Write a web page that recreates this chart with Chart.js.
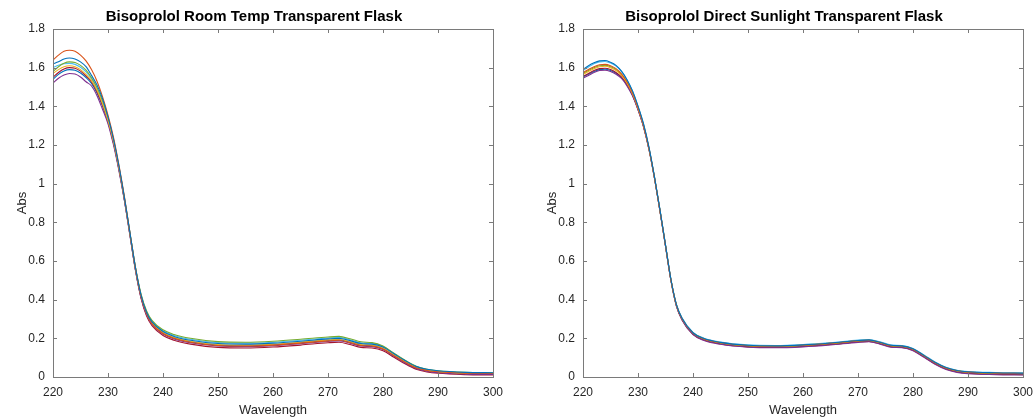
<!DOCTYPE html>
<html lang="en">
<head>
  <meta charset="UTF-8" />
  <title>Bisoprolol spectra</title>
  <script src="https://cdn.jsdelivr.net/npm/chart.js"></script>
  <style>
    * { box-sizing: border-box; margin: 0; padding: 0; }
    body { background: #fff; width: 1036px; height: 420px; position: relative; overflow: hidden; font-family: "Liberation Sans", Arial, sans-serif; }
    .panel { position: absolute; top: 0; height: 420px; }
    #leftPanel { left: 0; width: 504px; }
    #rightPanel { left: 530px; width: 506px; }
  </style>
</head>
<body>

  <div class="panel" id="leftPanel"><canvas id="chartLeft"></canvas></div>
  <div class="panel" id="rightPanel"><canvas id="chartRight"></canvas></div>

  <script>
    // Data
    const wavelengths = [220, 221, 222, 223, 224, 225, 226, 227, 228, 229, 230, 231, 232, 233, 234, 235, 236, 237, 238, 240,
                         242, 245, 250, 255, 260, 265, 270, 272, 274, 276, 278, 280, 282, 284, 286, 288, 290, 295, 300];

    // Room temp, transparent flask
    const room1 = [1.62, 1.63, 1.645, 1.65, 1.645, 1.63, 1.605, 1.56, 1.51, 1.44, 1.345, 1.23, 1.09, 0.925, 0.745, 0.565, 0.425, 0.335, 0.285, 0.235,
                   0.21, 0.19, 0.173, 0.17, 0.175, 0.185, 0.197, 0.2, 0.188, 0.173, 0.17, 0.155, 0.12, 0.085, 0.055, 0.04, 0.032, 0.024, 0.022];
    const room2 = [1.64, 1.665, 1.685, 1.69, 1.685, 1.665, 1.635, 1.59, 1.53, 1.45, 1.355, 1.24, 1.095, 0.93, 0.745, 0.565, 0.42, 0.33, 0.275, 0.225,
                   0.2, 0.18, 0.163, 0.16, 0.165, 0.175, 0.187, 0.19, 0.178, 0.163, 0.16, 0.145, 0.11, 0.077, 0.048, 0.034, 0.027, 0.02, 0.018];
    const room3 = [1.57, 1.59, 1.605, 1.61, 1.605, 1.59, 1.565, 1.533, 1.483, 1.413, 1.326, 1.216, 1.078, 0.918, 0.738, 0.558, 0.42, 0.33, 0.28, 0.23,
                   0.205, 0.185, 0.168, 0.165, 0.17, 0.18, 0.192, 0.195, 0.183, 0.168, 0.165, 0.15, 0.115, 0.08, 0.05, 0.035, 0.028, 0.02, 0.018];
    const room4 = [1.52, 1.545, 1.562, 1.57, 1.567, 1.552, 1.527, 1.505, 1.455, 1.385, 1.31, 1.2, 1.065, 0.91, 0.73, 0.55, 0.41, 0.322, 0.272, 0.222,
                   0.197, 0.177, 0.16, 0.157, 0.162, 0.172, 0.184, 0.187, 0.175, 0.16, 0.157, 0.142, 0.107, 0.072, 0.044, 0.03, 0.022, 0.015, 0.013];
    const room5 = [1.58, 1.605, 1.623, 1.63, 1.627, 1.612, 1.587, 1.548, 1.498, 1.428, 1.336, 1.226, 1.084, 0.924, 0.745, 0.567, 0.43, 0.343, 0.293, 0.244,
                   0.22, 0.2, 0.183, 0.18, 0.185, 0.195, 0.207, 0.21, 0.198, 0.182, 0.178, 0.16, 0.123, 0.087, 0.056, 0.04, 0.032, 0.024, 0.022];
    const room6 = [1.60, 1.612, 1.62, 1.622, 1.617, 1.602, 1.578, 1.542, 1.492, 1.422, 1.332, 1.222, 1.082, 0.922, 0.742, 0.563, 0.426, 0.338, 0.288, 0.239,
                   0.215, 0.195, 0.178, 0.175, 0.18, 0.19, 0.202, 0.205, 0.193, 0.177, 0.174, 0.158, 0.121, 0.085, 0.054, 0.038, 0.03, 0.022, 0.02];
    const room7 = [1.55, 1.575, 1.593, 1.60, 1.597, 1.582, 1.557, 1.526, 1.476, 1.406, 1.322, 1.212, 1.074, 0.914, 0.733, 0.552, 0.408, 0.316, 0.265, 0.215,
                   0.19, 0.17, 0.153, 0.15, 0.155, 0.165, 0.177, 0.18, 0.168, 0.153, 0.15, 0.136, 0.102, 0.068, 0.04, 0.026, 0.019, 0.012, 0.01];
    const room8 = [1.54, 1.565, 1.583, 1.59, 1.587, 1.572, 1.549, 1.519, 1.469, 1.401, 1.318, 1.21, 1.072, 0.913, 0.733, 0.554, 0.416, 0.327, 0.277, 0.227,
                   0.202, 0.182, 0.165, 0.162, 0.167, 0.177, 0.189, 0.192, 0.18, 0.165, 0.162, 0.147, 0.112, 0.077, 0.047, 0.032, 0.025, 0.017, 0.015];

    // Direct sunlight, transparent flask
    const sun1 = [1.59, 1.61, 1.625, 1.635, 1.637, 1.628, 1.612, 1.582, 1.538, 1.48, 1.402, 1.31, 1.188, 1.035, 0.864, 0.683, 0.503, 0.373, 0.304, 0.229,
                  0.199, 0.179, 0.164, 0.161, 0.166, 0.176, 0.189, 0.192, 0.18, 0.164, 0.161, 0.146, 0.112, 0.076, 0.049, 0.034, 0.027, 0.022, 0.02];
    const sun2 = [1.575, 1.59, 1.605, 1.615, 1.617, 1.61, 1.595, 1.568, 1.527, 1.471, 1.394, 1.303, 1.182, 1.031, 0.861, 0.681, 0.501, 0.372, 0.302, 0.227,
                  0.197, 0.177, 0.162, 0.159, 0.164, 0.174, 0.187, 0.19, 0.178, 0.162, 0.159, 0.144, 0.11, 0.074, 0.047, 0.032, 0.025, 0.02, 0.018];
    const sun3 = [1.565, 1.58, 1.595, 1.605, 1.607, 1.60, 1.585, 1.56, 1.52, 1.465, 1.39, 1.30, 1.18, 1.03, 0.86, 0.68, 0.50, 0.37, 0.301, 0.228,
                  0.198, 0.178, 0.163, 0.16, 0.165, 0.175, 0.188, 0.191, 0.179, 0.163, 0.16, 0.145, 0.111, 0.075, 0.048, 0.033, 0.026, 0.021, 0.019];
    const sun4 = [1.545, 1.56, 1.575, 1.585, 1.587, 1.58, 1.566, 1.544, 1.506, 1.454, 1.382, 1.294, 1.176, 1.027, 0.857, 0.677, 0.497, 0.365, 0.295, 0.219,
                  0.189, 0.169, 0.154, 0.151, 0.156, 0.166, 0.179, 0.182, 0.17, 0.154, 0.151, 0.136, 0.102, 0.066, 0.039, 0.024, 0.017, 0.012, 0.01];
    const sun5 = [1.57, 1.585, 1.60, 1.61, 1.612, 1.605, 1.59, 1.564, 1.523, 1.467, 1.392, 1.301, 1.181, 1.031, 0.861, 0.681, 0.501, 0.37, 0.30, 0.225,
                  0.195, 0.175, 0.16, 0.157, 0.162, 0.172, 0.185, 0.188, 0.176, 0.16, 0.157, 0.142, 0.108, 0.072, 0.045, 0.03, 0.023, 0.018, 0.016];
    const sun6 = [1.585, 1.603, 1.62, 1.63, 1.632, 1.624, 1.608, 1.58, 1.537, 1.479, 1.40, 1.309, 1.187, 1.035, 0.864, 0.683, 0.503, 0.375, 0.306, 0.231,
                  0.201, 0.181, 0.166, 0.163, 0.168, 0.178, 0.191, 0.194, 0.182, 0.166, 0.163, 0.148, 0.114, 0.078, 0.05, 0.035, 0.028, 0.023, 0.021];
    const sun7 = [1.555, 1.57, 1.585, 1.595, 1.597, 1.59, 1.575, 1.552, 1.513, 1.459, 1.386, 1.297, 1.178, 1.028, 0.858, 0.678, 0.498, 0.366, 0.296, 0.221,
                  0.191, 0.171, 0.156, 0.153, 0.158, 0.168, 0.181, 0.184, 0.172, 0.156, 0.153, 0.138, 0.104, 0.068, 0.041, 0.026, 0.019, 0.014, 0.012];
    const sun8 = [1.552, 1.566, 1.58, 1.59, 1.592, 1.585, 1.571, 1.548, 1.51, 1.457, 1.384, 1.296, 1.177, 1.028, 0.858, 0.678, 0.498, 0.368, 0.299, 0.223,
                  0.193, 0.173, 0.158, 0.155, 0.16, 0.17, 0.183, 0.186, 0.174, 0.158, 0.155, 0.14, 0.106, 0.07, 0.043, 0.028, 0.021, 0.016, 0.014];

    const xTicks = [220, 230, 240, 250, 260, 270, 280, 290, 300];
    const yTicks = [0, 0.2, 0.4, 0.6, 0.8, 1, 1.2, 1.4, 1.6, 1.8];

    // MATLAB default line colours
    const lineColors = ['#0072BD', '#D95319', '#EDB120', '#7E2F8E', '#77AC30', '#4DBEEE', '#A2142F', '#0072BD'];

    const textColor = '#262626';
    const boxColor = '#7a7a7a';
    const fontFamily = '"Liberation Sans", Arial, sans-serif';

    // box around plot area + inward ticks on all four sides (MATLAB look)
    const boxTicks = {
      id: 'boxTicks',
      afterDraw(chart) {
        const ctx = chart.ctx;
        const a = chart.chartArea;
        const xs = chart.scales.x, ys = chart.scales.y;
        const len = 4;
        ctx.save();
        ctx.strokeStyle = boxColor;
        ctx.lineWidth = 1;
        ctx.strokeRect(Math.round(a.left) + 0.5, Math.round(a.top) + 0.5,
                       Math.round(a.right - a.left), Math.round(a.bottom - a.top));
        ctx.beginPath();
        xTicks.forEach(v => {
          const px = Math.round(xs.getPixelForValue(v)) + 0.5;
          ctx.moveTo(px, a.bottom); ctx.lineTo(px, a.bottom - len);
          ctx.moveTo(px, a.top); ctx.lineTo(px, a.top + len);
        });
        yTicks.forEach(v => {
          const py = Math.round(ys.getPixelForValue(v)) + 0.5;
          ctx.moveTo(a.left, py); ctx.lineTo(a.left + len, py);
          ctx.moveTo(a.right, py); ctx.lineTo(a.right - len, py);
        });
        ctx.stroke();
        ctx.restore();
      }
    };

    const createChart = (id, title, series, padRight) => {
      new Chart(document.getElementById(id), {
        type: 'line',
        data: {
          labels: wavelengths,
          datasets: series.map((s, i) => ({
            data: wavelengths.map((w, j) => ({ x: w, y: s[j] })),
            borderColor: lineColors[i],
            borderWidth: 1.1,
            pointRadius: 0,
            fill: false,
            cubicInterpolationMode: 'monotone'
          }))
        },
        options: {
          responsive: true,
          maintainAspectRatio: false,
          animation: false,
          layout: { padding: { right: padRight, top: 0, left: 15, bottom: 0 } },
          plugins: {
            legend: { display: false },
            tooltip: { enabled: false },
            title: {
              display: true,
              text: title,
              color: '#000',
              font: { family: fontFamily, size: 15, weight: 'bold' },
              padding: { top: 8, bottom: 3 }
            }
          },
          scales: {
            x: {
              type: 'linear',
              min: 220, max: 300,
              afterBuildTicks: axis => { axis.ticks = xTicks.map(v => ({ value: v })); },
              afterFit: axis => { axis.height = 43; axis.paddingLeft = 0; axis.paddingRight = 0; },
              grid: { display: false, drawTicks: false },
              border: { display: false },
              ticks: { color: textColor, padding: 8, maxRotation: 0,
                       font: { family: fontFamily, size: 12 } },
              title: { display: true, text: 'Wavelength', color: textColor, padding: { top: 0, bottom: 2 },
                       font: { family: fontFamily, size: 13 } }
            },
            y: {
              min: 0, max: 1.8,
              afterBuildTicks: axis => { axis.ticks = yTicks.map(v => ({ value: v })); },
              afterFit: axis => { axis.width = 38; },
              grid: { display: false, drawTicks: false },
              border: { display: false },
              ticks: { color: textColor, padding: 8, callback: v => String(+v.toFixed(1)),
                       font: { family: fontFamily, size: 12 } },
              title: { display: true, text: 'Abs', color: textColor, padding: 0,
                       font: { family: fontFamily, size: 13 } }
            }
          }
        },
        plugins: [boxTicks]
      });
    };

    createChart('chartLeft', 'Bisoprolol Room Temp Transparent Flask',
                [room1, room2, room3, room4, room5, room6, room7, room8], 11);
    createChart('chartRight', 'Bisoprolol Direct Sunlight Transparent Flask',
                [sun1, sun2, sun3, sun4, sun5, sun6, sun7, sun8], 13);
  </script>
</body>
</html>
